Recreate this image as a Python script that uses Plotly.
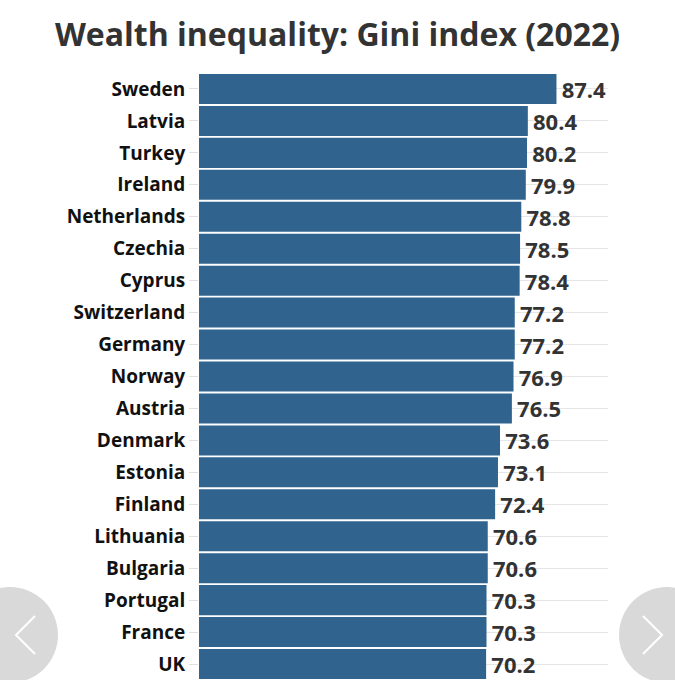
import plotly.graph_objects as go

countries = ["Sweden", "Latvia", "Turkey", "Ireland", "Netherlands", "Czechia", "Cyprus",
             "Switzerland", "Germany", "Norway", "Austria", "Denmark", "Estonia", "Finland",
             "Lithuania", "Bulgaria", "Portugal", "France", "UK"]
gini = [87.4, 80.4, 80.2, 79.9, 78.8, 78.5, 78.4, 77.2, 77.2, 76.9, 76.5, 73.6, 73.1, 72.4,
        70.6, 70.6, 70.3, 70.3, 70.2]

W, H = 675, 680
ML, MR, MT, MB = 199, 67, 73, 0

fig = go.Figure(go.Bar(
    x=gini, y=countries, orientation="h",
    marker=dict(color="#30648f", line=dict(width=0)),
    texttemplate="\u200a%{x:.1f}", textposition="outside",
    textfont=dict(family="Open Sans", size=22, color="#333333", weight="bold"),
    cliponaxis=False,
))

fig.update_layout(
    width=W, height=H,
    margin=dict(l=ML, r=MR, t=MT, b=MB),
    paper_bgcolor="white", plot_bgcolor="white",
    bargap=0.06,
    showlegend=False,
    title=dict(text="<b>Wealth inequality: Gini index (2022)</b>",
               x=0.5, xanchor="center", xref="container",
               y=1 - 35 / H, yanchor="middle", yref="container",
               font=dict(family="Open Sans", size=32, color="#333333")),
    xaxis=dict(range=[0, 100], showgrid=False, zeroline=False, showticklabels=False,
               showline=False, ticks=""),
    yaxis=dict(autorange="reversed", showgrid=True, gridcolor="#e6e6e6", gridwidth=1,
               ticks="outside", ticklen=9, tickcolor="#e0e0e0", showline=False,
               tickfont=dict(family="Open Sans", size=19, color="#111111", weight="bold")),
)

# carousel navigation buttons (decorative)
R = 48
for cx in (10, 667):
    fig.add_shape(type="circle", xref="paper", yref="paper",
                  x0=(cx - R - ML) / (W - ML - MR), x1=(cx + R - ML) / (W - ML - MR),
                  y0=(H - 635 - R - MB) / (H - MT - MB), y1=(H - 635 + R - MB) / (H - MT - MB),
                  fillcolor="#d9d9d9", line=dict(width=0), layer="above")

def px_to_paper(x, y):
    return (x - ML) / (W - ML - MR), (H - y - MB) / (H - MT - MB)

def chevron(pts):
    path = ""
    for i, (x, y) in enumerate(pts):
        px, py = px_to_paper(x, y)
        path += ("M" if i == 0 else "L") + f"{px},{py} "
    fig.add_shape(type="path", xref="paper", yref="paper", path=path,
                  line=dict(color="white", width=2), layer="above")

chevron([(35, 616), (16, 635), (35, 654)])
chevron([(643, 616), (662, 635), (643, 654)])

fig.write_html("out.html", config={"displayModeBar": False},
               post_script="document.body.style.margin='0';document.body.style.overflow='hidden';")
